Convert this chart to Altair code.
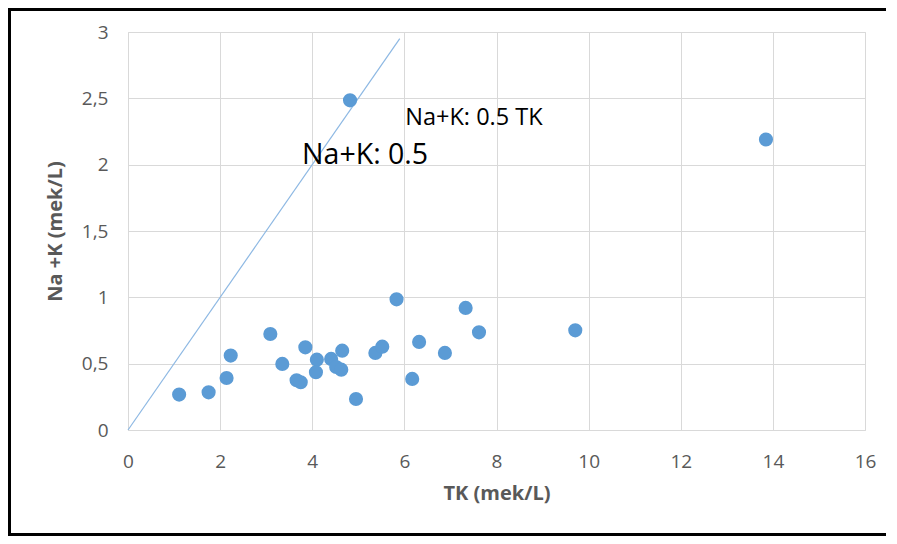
import altair as alt
import pandas as pd

# Data
tk = [1.11, 1.75, 2.14, 2.23, 3.09, 3.35, 3.66, 3.75, 3.85, 4.10, 4.08, 4.41, 4.52,
      4.63, 4.65, 4.95, 5.37, 5.52, 5.83, 6.17, 6.32, 6.88, 7.33, 7.62, 9.71, 4.82, 13.85]
nak = [0.267, 0.284, 0.392, 0.561, 0.724, 0.498, 0.375, 0.360, 0.623, 0.530, 0.435, 0.536, 0.475,
       0.455, 0.598, 0.234, 0.581, 0.628, 0.985, 0.385, 0.664, 0.581, 0.920, 0.736, 0.751, 2.485, 2.19]

line_x = [0, 5.9]
line_y = [0, 2.95]

label_text = ["Na+K: 0.5 TK", "Na+K: 0.5"]
label_x = [6.02, 3.78]
label_y = [2.35, 2.07]
label_size = [23.5, 28.5]

x_ticks = [0, 2, 4, 6, 8, 10, 12, 14, 16]
y_ticks = [0, 0.5, 1, 1.5, 2, 2.5, 3]

pts = pd.DataFrame({"TK": tk, "NaK": nak})
ln = pd.DataFrame({"TK": line_x, "NaK": line_y})
lbl = pd.DataFrame({"t": label_text, "TK": label_x, "NaK": label_y, "s": label_size})

FONT = "Open Sans"
GRAY = "#595959"

xs = alt.Scale(domain=[0, 16], nice=False, zero=True)
ys = alt.Scale(domain=[0, 3], nice=False, zero=True)

xax = alt.Axis(values=x_ticks, title="TK (mek/L)", grid=True, ticks=False, tickSize=0,
               domain=False, labelExpr="replace(toString(datum.value), '.', ',')",
               labelFlush=False, labelOverlap=False,
               labelFontSize=19, labelColor=GRAY, labelFont=FONT, labelPadding=22,
               titleFont=FONT, titleFontSize=20, titleFontWeight="bold", titleColor=GRAY,
               titlePadding=12, gridColor="#D9D9D9", gridWidth=1)
yax = alt.Axis(values=y_ticks, title="Na +K (mek/L)", grid=True, ticks=False, tickSize=0,
               domain=False, labelExpr="replace(toString(datum.value), '.', ',')",
               labelFlush=False, labelOverlap=False,
               labelFontSize=19, labelColor=GRAY, labelFont=FONT, labelPadding=20,
               titleFont=FONT, titleFontSize=20, titleFontWeight="bold", titleColor=GRAY,
               titlePadding=16, gridColor="#D9D9D9", gridWidth=1)

points = alt.Chart(pts).mark_circle(size=200, opacity=1, color="#5B9BD5").encode(
    x=alt.X("TK:Q", scale=xs, axis=xax),
    y=alt.Y("NaK:Q", scale=ys, axis=yax),
)

line = alt.Chart(ln).mark_line(color="#8DB8E3", strokeWidth=1.2).encode(
    x=alt.X("TK:Q", scale=xs),
    y=alt.Y("NaK:Q", scale=ys),
)

texts = alt.Chart(lbl).mark_text(align="left", baseline="middle", font=FONT, color="#000000").encode(
    x=alt.X("TK:Q", scale=xs),
    y=alt.Y("NaK:Q", scale=ys),
    text="t:N",
    size=alt.Size("s:Q", scale=None, legend=None),
)

one = alt.Data(values=[{"a": 1}])
frame_top = alt.Chart(one).mark_rule(color="#000000", strokeWidth=3).encode(
    x=alt.value(-120), x2=alt.value(758), y=alt.value(-22.5))
frame_left = alt.Chart(one).mark_rule(color="#000000", strokeWidth=3).encode(
    x=alt.value(-118.5), y=alt.value(-24), y2=alt.value(504))
frame_bottom = alt.Chart(one).mark_rule(color="#000000", strokeWidth=3).encode(
    x=alt.value(-120), x2=alt.value(758), y=alt.value(502.5))

chart = alt.layer(line, points, texts, frame_top, frame_left, frame_bottom).properties(
    width=737, height=398,
    padding={"left": 120, "top": 24, "right": 24, "bottom": 106},
    autosize=alt.AutoSizeParams(type="none"),
).configure_view(stroke="#D9D9D9", strokeWidth=1).configure(background="white")

chart.save("out.html", embed_options={"renderer": "svg", "actions": False})
